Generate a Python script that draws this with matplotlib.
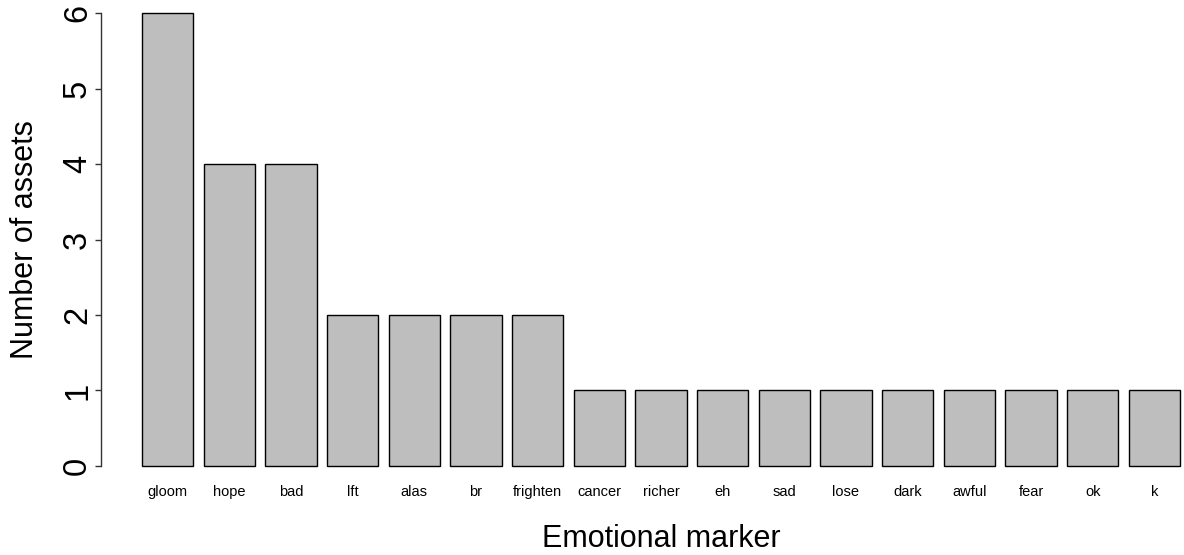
import matplotlib
matplotlib.use("Agg")
import matplotlib.pyplot as plt

categories = ["gloom", "hope", "bad", "lft", "alas", "br", "frighten", "cancer",
              "richer", "eh", "sad", "lose", "dark", "awful", "fear", "ok", "k"]
counts = [6, 4, 4, 2, 2, 2, 2, 1, 1, 1, 1, 1, 1, 1, 1, 1, 1]
yticks = [0, 1, 2, 3, 4, 5, 6]

plt.rcParams['font.family'] = ['Liberation Sans', 'DejaVu Sans']

W, H = 1184, 555
fig = plt.figure(figsize=(W / 100, H / 100), dpi=100)
ax = fig.add_axes([100.5 / W, 1 - 484.1 / H, 1121 / W, 489.2 / H])

n = len(categories)
xs = [0.7 + 1.2 * i for i in range(n)]
ax.bar(xs, counts, width=1.0, color="#BEBEBE", edgecolor="black", linewidth=1.0)

ax.set_xlim(0.2 - 0.808, 20.4 + 0.808)
ax.set_ylim(-0.24, 6.24)

for s in ["top", "right", "bottom"]:
    ax.spines[s].set_visible(False)
ax.spines["left"].set_bounds(0, 6)
ax.spines["left"].set_linewidth(1.0)
ax.spines["left"].set_color("#333333")

ax.set_xticks(xs)
ax.set_xticklabels(categories, fontsize=10.5)
ax.tick_params(axis="x", length=0, pad=1)

ax.set_yticks(yticks)
ax.set_yticklabels([str(v) for v in yticks], fontsize=23.5, rotation=90, va="center")
ax.tick_params(axis="y", length=6 * 72 / 100, width=1.0, pad=1, color="#333333")

ax.set_xlabel("Emotional marker", fontsize=22, va="center")
ax.xaxis.set_label_coords(0.5, (484.1 - 539) / 489.2)
ax.set_ylabel("Number of assets", fontsize=22, va="center", ha="center")
ax.yaxis.set_label_coords((25 - 100.5) / 1121, 0.5)

fig.savefig("out.png", dpi=100)
